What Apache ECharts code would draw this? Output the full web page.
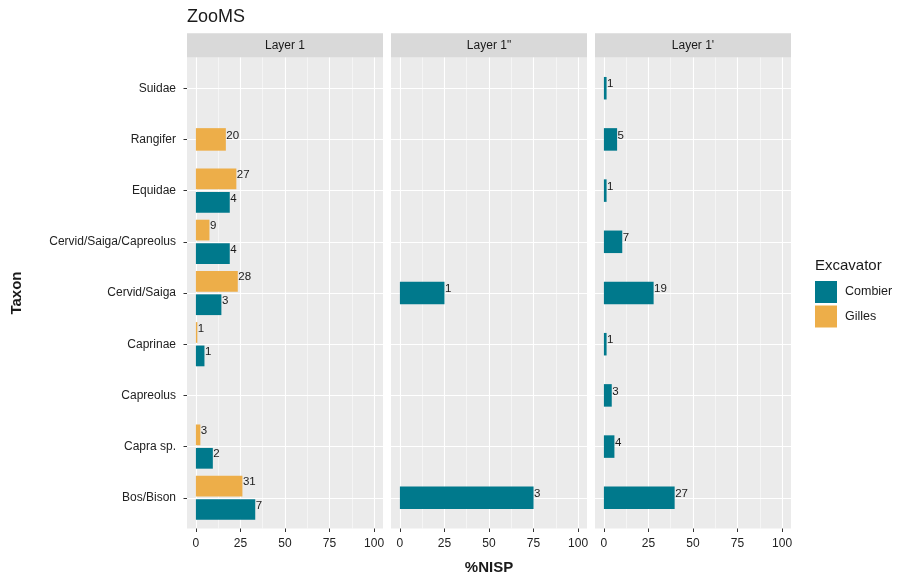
<!DOCTYPE html>
<html>
<head>
<meta charset="utf-8">
<script src="https://cdn.jsdelivr.net/npm/echarts@6/dist/echarts.min.js"></script>
<style>
  html, body { margin: 0; padding: 0; background: #fff; }
  #chart { width: 898px; height: 575px; }
</style>
</head>
<body>
<div id="chart"></div>
<script>
// taxa, bottom to top
const taxa = ['Bos/Bison', 'Capra sp.', 'Capreolus', 'Caprinae', 'Cervid/Saiga',
  'Cervid/Saiga/Capreolus', 'Equidae', 'Rangifer', 'Suidae'];
const layers = ['Layer 1', 'Layer 1"', "Layer 1'"];
const xTicks = [0, 25, 50, 75, 100];
const xMinor = [12.5, 37.5, 62.5, 87.5];

// %NISP (bar length) and NISP count (label), per taxon
const l1CombierPct = [33.3, 9.5, null, 4.8, 14.3, 19.0, 19.0, null, null];
const l1CombierN   = [7, 2, null, 1, 3, 4, 4, null, null];
const l1GillesPct  = [26.1, 2.5, null, 0.8, 23.5, 7.6, 22.7, 16.8, null];
const l1GillesN    = [31, 3, null, 1, 28, 9, 27, 20, null];
const l1bCombierPct = [75, null, null, null, 25, null, null, null, null];
const l1bCombierN   = [3, null, null, null, 1, null, null, null, null];
const l1aCombierPct = [39.7, 5.9, 4.4, 1.5, 27.9, 10.3, 1.5, 7.4, 1.5];
const l1aCombierN   = [27, 4, 3, 1, 19, 7, 1, 5, 1];

const colors = { Combier: '#00798c', Gilles: '#edae49' };
const font = "'Liberation Sans', Arial, sans-serif";

// which data goes in which facet
const facets = [
  { Combier: [l1CombierPct, l1CombierN], Gilles: [l1GillesPct, l1GillesN] },
  { Combier: [l1bCombierPct, l1bCombierN], Gilles: null },
  { Combier: [l1aCombierPct, l1aCombierN], Gilles: null }
];

const panelLeft = [187, 391, 595];
const panelW = 196, panelTop = 57.5, panelH = 471;

function renderBar(params, api) {
  const v = api.value(0), idx = api.value(1), n = api.value(2), slot = api.value(3);
  const band = api.size([0, 1])[1];
  const p0 = api.coord([0, idx]);
  const p1 = api.coord([v, idx]);
  const h = slot === 0 ? band * 0.44 : band * 0.405;
  const cy = p0[1] - slot * band * 0.229;
  const color = api.visual('color');
  return {
    type: 'group',
    children: [
      { type: 'rect', shape: { x: p0[0], y: cy - h / 2, width: p1[0] - p0[0], height: h },
        style: { fill: color } },
      { type: 'text', x: p1[0] + 0.5, y: cy - 4,
        style: { text: String(n), fill: '#1a1a1a', fontSize: 11.5, fontFamily: font,
                 align: 'left', verticalAlign: 'middle' } }
    ]
  };
}

const noTick = { color: 'rgba(0,0,0,0)' };
const grids = [], xAxes = [], yAxes = [], series = [], graphics = [];
facets.forEach((f, i) => {
  grids.push({ left: panelLeft[i], top: panelTop, width: panelW, height: panelH,
    show: true, backgroundColor: '#ebebeb', borderWidth: 0, outerBoundsMode: 'none' });
  xAxes.push({
    gridIndex: i, type: 'value', min: -5, max: 105, position: 'bottom',
    axisLine: { show: false, onZero: false },
    axisTick: { show: true, length: 3.5, lineStyle: { color: '#333', width: 1 }, customValues: xTicks },
    axisLabel: { customValues: xTicks, fontSize: 12, color: '#222', fontFamily: font, margin: 9.5 },
    splitLine: { show: true, lineStyle: { color: '#fff', width: 1.1 } }
  });
  xAxes.push({
    gridIndex: i, type: 'value', min: -5, max: 105, position: 'bottom',
    axisLine: { show: false, onZero: false },
    axisTick: { show: true, length: 0, lineStyle: noTick, customValues: xMinor },
    axisLabel: { show: false },
    splitLine: { show: true, lineStyle: { color: '#fff', width: 0.5 } }
  });
  yAxes.push({
    gridIndex: i, type: 'value', min: -0.6, max: 8.6, position: 'left',
    axisLine: { show: false, onZero: false },
    axisTick: { show: true, length: i === 0 ? 3.5 : 0,
                lineStyle: i === 0 ? { color: '#333', width: 1 } : noTick,
                customValues: taxa.map((t, k) => k) },
    axisLabel: { show: i === 0, customValues: taxa.map((t, k) => k), fontSize: 12,
                 color: '#222', fontFamily: font, margin: 11,
                 formatter: v => taxa[Math.round(v)] },
    splitLine: { show: true, lineStyle: { color: '#fff', width: 1.1 } }
  });
  ['Combier', 'Gilles'].forEach((who) => {
    if (!f[who]) return;
    const other = f[who === 'Combier' ? 'Gilles' : 'Combier'];
    const [pct, cnt] = f[who];
    const data = [];
    pct.forEach((v, k) => {
      if (v == null) return;
      const both = !!other && other[0][k] != null;
      data.push([v, k, cnt[k], both ? (who === 'Gilles' ? 1 : -1) : 0]);
    });
    series.push({
      type: 'custom', name: who, xAxisIndex: i * 2, yAxisIndex: i,
      itemStyle: { color: colors[who] },
      encode: { x: 0, y: 1 }, clip: false,
      renderItem: renderBar, data: data
    });
  });
  // facet strip
  graphics.push({ type: 'rect', shape: { x: panelLeft[i], y: 33.3, width: panelW, height: 24.2 },
    style: { fill: '#d9d9d9' } });
  graphics.push({ type: 'text', x: panelLeft[i] + panelW / 2, y: 45.5,
    style: { text: layers[i], fill: '#1a1a1a', fontSize: 12, fontFamily: font,
             align: 'center', verticalAlign: 'middle' } });
});

// axis titles and legend title
graphics.push({ type: 'text', x: 489, y: 567.5,
  style: { text: '%NISP', fill: '#1a1a1a', fontSize: 15, fontWeight: 'bold', fontFamily: font,
           align: 'center', verticalAlign: 'middle' } });
graphics.push({ type: 'text', x: 16.5, y: 293, rotation: Math.PI / 2,
  style: { text: 'Taxon', fill: '#1a1a1a', fontSize: 15, fontWeight: 'bold', fontFamily: font,
           align: 'center', verticalAlign: 'middle' } });
graphics.push({ type: 'text', x: 815, y: 266,
  style: { text: 'Excavator', fill: '#1a1a1a', fontSize: 15, fontFamily: font,
           align: 'left', verticalAlign: 'middle' } });

const chart = echarts.init(document.getElementById('chart'), null, { renderer: 'canvas' });
chart.setOption({
  animation: false,
  title: { text: 'ZooMS', left: 182, top: 3,
    textStyle: { fontSize: 18, fontWeight: 'normal', color: '#1a1a1a', fontFamily: font } },
  legend: {
    orient: 'vertical', left: 815, top: 281, padding: 0, itemWidth: 22, itemHeight: 22, itemGap: 2.5,
    selectedMode: false,
    data: [{ name: 'Combier', icon: 'rect' }, { name: 'Gilles', icon: 'rect' }],
    textStyle: { fontSize: 12.5, color: '#1a1a1a', fontFamily: font, padding: [0, 0, 0, 3] }
  },
  grid: grids, xAxis: xAxes, yAxis: yAxes, series: series, graphic: graphics
});
</script>
</body>
</html>
